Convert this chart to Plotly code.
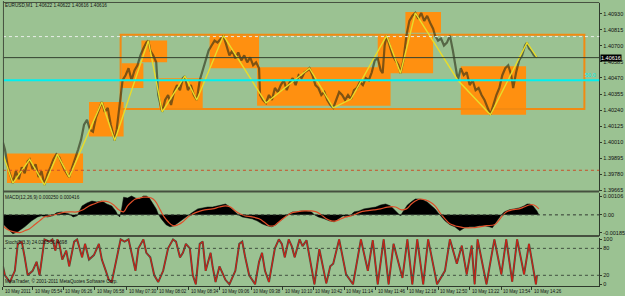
import plotly.graph_objects as go

W, H = 625, 296

# ---------------- data ----------------
price_x = [3,5,8,11,13,16,19,22,25,28,30,33,36,39,42,45,48,51,54,57,60,62,65,68,70,73,76,79,82,85,88,91,94,97,100,103,106,109,112,114,116,118,120,122,124,127,130,133,136,139,142,145,148,150,152,155,158,160,162,164,167,170,173,176,179,182,185,187,190,193,196,199,202,205,208,211,214,217,220,223,226,229,232,235,238,241,244,247,250,253,256,259,262,263,266,269,272,275,278,281,284,287,290,293,296,299,302,305,308,311,313,316,319,322,325,328,331,334,337,340,343,346,349,352,355,358,361,364,367,370,373,376,379,382,385,387,389,391,394,397,400,403,405,408,411,414,417,420,423,426,429,432,435,438,440,443,446,449,452,455,458,461,463,466,469,472,475,478,481,484,487,490,493,496,499,502,505,508,511,514,517,519,522,525,528,531,533,535,537,540,543]
price_y = [1.40007,1.39957,1.39830,1.39759,1.39716,1.39801,1.39744,1.39830,1.39787,1.39872,1.39886,1.39815,1.39851,1.39759,1.39801,1.39702,1.39780,1.39830,1.39886,1.39922,1.39900,1.39865,1.39815,1.39780,1.39759,1.39830,1.39886,1.39957,1.40028,1.40135,1.40170,1.40099,1.40085,1.40185,1.40241,1.40298,1.40227,1.40256,1.40135,1.40085,1.40021,1.40099,1.40206,1.40348,1.40454,1.40490,1.40540,1.40454,1.40525,1.40561,1.40632,1.40682,1.40724,1.40738,1.40667,1.40632,1.40582,1.40348,1.40277,1.40227,1.40312,1.40348,1.40277,1.40369,1.40419,1.40383,1.40469,1.40483,1.40383,1.40419,1.40348,1.40312,1.40454,1.40525,1.40596,1.40667,1.40703,1.40738,1.40724,1.40753,1.40774,1.40703,1.40632,1.40667,1.40611,1.40653,1.40596,1.40632,1.40582,1.40618,1.40561,1.40582,1.40540,1.40348,1.40312,1.40291,1.40348,1.40312,1.40398,1.40369,1.40419,1.40454,1.40383,1.40440,1.40469,1.40419,1.40490,1.40469,1.40511,1.40525,1.40540,1.40490,1.40419,1.40398,1.40348,1.40369,1.40312,1.40277,1.40256,1.40312,1.40369,1.40348,1.40312,1.40348,1.40319,1.40383,1.40398,1.40440,1.40419,1.40469,1.40454,1.40511,1.40596,1.40611,1.40525,1.40504,1.40703,1.40774,1.40703,1.40632,1.40596,1.40561,1.40504,1.40596,1.40774,1.40880,1.40916,1.40937,1.40895,1.40937,1.40880,1.40916,1.40866,1.40824,1.40774,1.40738,1.40753,1.40703,1.40724,1.40774,1.40667,1.40525,1.40454,1.40540,1.40490,1.40511,1.40419,1.40454,1.40383,1.40398,1.40348,1.40312,1.40256,1.40206,1.40277,1.40348,1.40398,1.40490,1.40540,1.40561,1.40490,1.40398,1.40511,1.40596,1.40632,1.40703,1.40724,1.40682,1.40667,1.40632,1.40618]

zz_x = [3,13,30,45,58,70,103,116,150,164,187,199,226,269,313,337,355,391,405,420,463,496,533,543]
zz_y = [1.39922,1.39716,1.39886,1.39702,1.39922,1.39759,1.40298,1.40021,1.40738,1.40227,1.40483,1.40312,1.40774,1.40291,1.40540,1.40256,1.40319,1.40774,1.40504,1.40937,1.40454,1.40206,1.40724,1.40618]

box_x0 = [7, 90, 123, 143, 161, 212, 260, 382, 410, 466]
box_x1 = [84, 125, 145, 169, 205, 262, 395, 438, 446, 532]
box_hi = [1.39929, 1.40298, 1.40575, 1.40738, 1.40469, 1.40774, 1.40547, 1.40774, 1.40944, 1.40554]
box_lo = [1.39716, 1.40050, 1.40398, 1.40582, 1.40248, 1.40540, 1.40270, 1.40504, 1.40795, 1.40206]

range_x0, range_x1 = 122, 591
range_hi, range_lo = 1.40781, 1.40248

level_white = 1.40767
level_bid = 1.40616
level_fibo = 1.40454
level_red = 1.39808

price_ticks = [1.40930, 1.40815, 1.40700, 1.40585, 1.40470, 1.40355, 1.40240, 1.40125, 1.40010, 1.39895, 1.39780, 1.39665]

macd_x = [3,8,13,18,25,32,38,42,48,53,57,62,66,70,74,78,83,88,93,98,103,108,113,117,119,121,123,125,129,133,137,141,145,148,151,155,158,160,163,168,172,176,180,185,190,194,200,205,210,215,220,225,228,231,234,238,241,245,250,255,260,265,270,275,279,283,288,292,296,300,305,310,315,318,322,328,333,338,343,347,351,355,358,363,368,374,380,385,390,395,400,405,408,412,417,420,423,428,432,436,440,444,447,450,455,460,465,470,475,480,485,490,495,498,502,505,507,510,515,520,525,530,533,536,539,543,545]
macd_hist = [-0.00048,-0.00074,-0.00101,-0.00090,-0.00064,-0.00032,-0.00011,-0.00005,-0.00011,-0.00005,0.00011,0.00016,0.00011,0.00005,-0.00011,-0.00005,0.00048,0.00064,0.00074,0.00069,0.00074,0.00058,0.00048,0.00021,0.0,-0.00011,0.00032,0.00095,0.00090,0.00101,0.00090,0.00085,0.00101,0.00101,0.00090,0.00058,0.00032,0.00005,-0.00021,-0.00053,-0.00064,-0.00058,-0.00042,-0.00021,-0.00005,0.00011,0.00032,0.00037,0.00042,0.00042,0.00048,0.00053,0.00058,0.00048,0.00032,0.00011,0.0,-0.00011,-0.00016,-0.00021,-0.00032,-0.00048,-0.00058,-0.00064,-0.00053,-0.00032,-0.00011,0.00005,0.00016,0.00016,0.00021,0.00021,0.00016,0.0,-0.00011,-0.00021,-0.00032,-0.00037,-0.00021,-0.00005,-0.00011,0.0,0.00016,0.00021,0.00032,0.00037,0.00042,0.00053,0.00058,0.00048,0.00021,-0.00005,0.00021,0.00053,0.00074,0.00085,0.00085,0.00080,0.00069,0.00053,0.00032,0.00005,-0.00016,-0.00032,-0.00053,-0.00064,-0.00085,-0.00069,-0.00064,-0.00064,-0.00058,-0.00058,-0.00064,-0.00069,-0.00037,-0.00011,0.0,0.00016,0.00027,0.00032,0.00037,0.00048,0.00058,0.00058,0.00048,0.00021,0.0]

sig_x = [3,8,13,20,25,30,35,40,45,50,55,62,70,78,84,90,95,100,105,110,115,120,125,129,133,137,141,145,149,153,157,162,166,170,175,180,185,190,195,200,207,215,222,228,233,238,243,248,255,262,268,272,277,281,286,290,295,300,308,315,320,325,330,335,340,345,350,355,360,365,370,378,385,392,400,406,411,416,420,425,430,435,440,445,450,455,460,465,470,478,485,492,500,504,508,512,518,525,530,535,540,545]
macd_signal = [-0.00058,-0.00080,-0.00090,-0.00095,-0.00085,-0.00074,-0.00053,-0.00032,-0.00011,-0.00005,0.0,0.00011,0.00016,0.00016,0.00027,0.00048,0.00058,0.00069,0.00074,0.00069,0.00053,0.00027,0.00016,0.00048,0.00069,0.00085,0.00090,0.00095,0.00095,0.00090,0.00074,0.00027,-0.00011,-0.00037,-0.00058,-0.00053,-0.00037,-0.00011,0.00005,0.00016,0.00027,0.00032,0.00042,0.00048,0.00042,0.00021,0.00005,-0.00005,-0.00011,-0.00021,-0.00042,-0.00058,-0.00058,-0.00042,-0.00021,-0.00005,0.00011,0.00016,0.00021,0.00021,0.00016,0.0,-0.00021,-0.00032,-0.00032,-0.00021,-0.00011,-0.00005,0.00005,0.00016,0.00021,0.00027,0.00032,0.00042,0.00042,0.00027,0.00032,0.00058,0.00074,0.00085,0.00080,0.00069,0.00048,0.00011,-0.00021,-0.00048,-0.00058,-0.00064,-0.00069,-0.00069,-0.00064,-0.00058,-0.00053,-0.00032,-0.00005,0.00016,0.00027,0.00032,0.00042,0.00053,0.00053,0.00032]

stoch_x = [3,5,10,15,18,22,25,28,33,37,40,45,50,53,56,58,60,63,67,70,75,78,83,86,90,95,100,103,107,110,113,118,122,126,130,134,137,140,145,148,152,156,160,165,170,175,178,182,185,188,192,195,198,202,205,208,213,215,218,222,228,232,238,242,245,248,252,258,262,265,268,272,278,282,285,288,292,295,298,303,306,310,314,318,323,327,330,334,337,343,350,357,365,372,377,382,388,393,398,407,412,417,422,428,433,442,447,450,455,462,467,472,477,480,483,492,500,507,512,518,523,530,535,542,543]
stoch_k = [40,20,5,30,90,95,60,20,30,50,20,100,95,100,75,100,90,55,75,40,95,100,60,90,55,65,90,55,30,10,5,60,100,95,100,60,30,80,100,70,60,20,5,30,80,100,95,60,70,90,80,20,0,90,95,30,70,40,5,40,10,0,30,90,95,60,20,0,50,70,30,5,80,100,90,60,100,85,60,100,85,98,50,0,78,38,2,40,46,100,22,0,100,30,98,0,100,0,90,14,100,0,100,0,100,0,20,30,100,46,86,22,86,0,100,0,100,22,100,6,100,22,90,0,20]

time_pos = [3, 33, 64, 96, 128, 159, 191, 222, 254, 286, 317, 348, 380, 412, 443, 475, 507, 538]
time_lbl = ["10 May 2011", "10 May 05:54", "10 May 06:26", "10 May 06:58", "10 May 07:30", "10 May 08:02",
            "10 May 08:34", "10 May 09:06", "10 May 09:38", "10 May 10:10", "10 May 10:42", "10 May 11:14",
            "10 May 11:46", "10 May 12:18", "10 May 12:50", "10 May 13:22", "10 May 13:54", "10 May 14:26"]

# ---------------- styling ----------------
BG = "#9BC292"
DARK = "#2f3a2c"
ORANGE = "#FF9010"
FONT = "Liberation Sans"

def fx(p):
    return p / W

def fy(p):
    return 1 - p / H

fig = go.Figure()

# price bars (dark, semi-transparent over boxes)
fig.add_trace(go.Scatter(x=price_x, y=price_y, mode="lines",
                         line=dict(color="rgba(40,42,20,0.6)", width=2.2),
                         xaxis="x", yaxis="y", hoverinfo="skip"))
# zigzag
fig.add_trace(go.Scatter(x=zz_x, y=zz_y, mode="lines",
                         line=dict(color="#E8DC2A", width=1.4),
                         xaxis="x", yaxis="y", hoverinfo="skip"))
# MACD histogram
fig.add_trace(go.Scatter(x=macd_x, y=macd_hist, mode="lines", fill="tozeroy",
                         fillcolor="#000000", line=dict(color="#000000", width=0.5),
                         xaxis="x", yaxis="y2", hoverinfo="skip"))
fig.add_trace(go.Scatter(x=sig_x, y=macd_signal, mode="lines", line_shape="spline",
                         line=dict(color="#E0502A", width=1.2),
                         xaxis="x", yaxis="y2", hoverinfo="skip"))
# Stochastic
fig.add_trace(go.Scatter(x=stoch_x, y=stoch_k, mode="lines",
                         line=dict(color="#4a4f44", width=2.0),
                         xaxis="x", yaxis="y3", hoverinfo="skip"))
fig.add_trace(go.Scatter(x=stoch_x, y=stoch_k, mode="lines",
                         line=dict(color="#D81E10", width=1.0),
                         xaxis="x", yaxis="y3", hoverinfo="skip"))

shapes = []
for x0, x1, hi, lo in zip(box_x0, box_x1, box_hi, box_lo):
    shapes.append(dict(type="rect", xref="x", yref="y", x0=x0, x1=x1, y0=lo, y1=hi,
                       fillcolor=ORANGE, line=dict(width=0), layer="below"))
shapes.append(dict(type="rect", xref="x", yref="y", x0=range_x0, x1=range_x1, y0=range_lo, y1=range_hi,
                   fillcolor="rgba(0,0,0,0)", line=dict(color="#F28A12", width=2), layer="below"))
# horizontal levels
shapes.append(dict(type="line", xref="paper", yref="y", x0=fx(3), x1=fx(606), y0=level_white, y1=level_white,
                   line=dict(color="#E8EEE8", width=1, dash="dot")))
shapes.append(dict(type="line", xref="paper", yref="y", x0=fx(3), x1=fx(606), y0=level_bid, y1=level_bid,
                   line=dict(color="#34402f", width=1)))
shapes.append(dict(type="line", xref="paper", yref="y", x0=fx(3), x1=fx(606), y0=level_fibo, y1=level_fibo,
                   line=dict(color="#00F0F0", width=2)))
shapes.append(dict(type="line", xref="paper", yref="y", x0=fx(3), x1=fx(606), y0=level_red, y1=level_red,
                   line=dict(color="#C8502A", width=1, dash="dot")))
# indicator levels
shapes.append(dict(type="line", xref="paper", yref="y2", x0=fx(3), x1=fx(606), y0=0, y1=0,
                   line=dict(color="#303830", width=1, dash="dot")))
for lv in (80, 20):
    shapes.append(dict(type="line", xref="paper", yref="y3", x0=fx(3), x1=fx(606), y0=lv, y1=lv,
                       line=dict(color="#405040", width=1, dash="dot")))
# pane borders
for yy in (1.5, 192.5, 237.5):
    shapes.append(dict(type="line", xref="paper", yref="paper", x0=fx(3), x1=fx(606), y0=fy(yy), y1=fy(yy),
                       line=dict(color="#46503f", width=2 if yy > 2 else 1)))
shapes.append(dict(type="line", xref="paper", yref="paper", x0=fx(3.5), x1=fx(3.5), y0=fy(0), y1=fy(288),
                   line=dict(color="#46503f", width=1)))

annotations = []
def txt(x, y, s, size=4.7, color="#111111"):
    annotations.append(dict(x=fx(x), y=fy(y), xref="paper", yref="paper", text=s, showarrow=False,
                            xanchor="left", yanchor="middle", font=dict(family=FONT, size=size, color=color)))

txt(3, 5, "EURUSD,M1  1.40622 1.40622 1.40616 1.40616")
txt(3, 199, "MACD(12,26,9) 0.000250 0.000416")
txt(3, 244, "Stoch(5,3,3) 24.0265 30.4698")
txt(3, 283, "MetaTrader, © 2001-2011 MetaQuotes Software Corp.")
for tp, tl in zip(time_pos, time_lbl):
    annotations.append(dict(x=tp, y=fy(293), xref="x", yref="paper", text=tl, showarrow=False,
                            xanchor="left", yanchor="middle", font=dict(family=FONT, size=4.5, color="#111111")))
# fibo label and current price box
annotations.append(dict(x=fx(605), y=level_fibo, xref="paper", yref="y", text="50.0", showarrow=False,
                        xanchor="right", yanchor="bottom", font=dict(family=FONT, size=5.5, color="#00F0F0")))
annotations.append(dict(x=fx(607), y=level_bid, xref="paper", yref="y", text="1.40616", showarrow=False,
                        xanchor="left", yanchor="middle", bgcolor="#000000", borderpad=0,
                        font=dict(family=FONT, size=5.5, color="#FFFFFF")))

axis_font = dict(family=FONT, size=5.5, color="#111111")
fig.update_layout(
    width=W, height=H, margin=dict(l=0, r=0, t=0, b=0),
    paper_bgcolor=BG, plot_bgcolor=BG, showlegend=False,
    xaxis=dict(domain=[fx(3), fx(606)], range=[3, 606], anchor="y3", showgrid=False, zeroline=False,
               tickvals=time_pos, ticks="outside", ticklen=3, tickcolor=DARK, showticklabels=False,
               showline=True, linecolor=DARK, linewidth=1),
    yaxis=dict(domain=[fy(192), fy(2)], range=[1.39659, 1.41008], side="right", anchor="x",
               tickvals=price_ticks, ticktext=[f"{v:.5f}" for v in price_ticks], tickfont=axis_font,
               ticks="outside", ticklen=2, tickcolor=DARK, showgrid=False, zeroline=False,
               showline=True, linecolor=DARK, linewidth=1),
    yaxis2=dict(domain=[fy(237), fy(194)], range=[-0.00111, 0.00117], side="right", anchor="x",
                tickvals=[0.00101, 0, -0.00095], ticktext=["0.00106", "0.00", "-0.00185"], tickfont=axis_font,
                ticks="outside", ticklen=2, tickcolor=DARK, showgrid=False, zeroline=False,
                showline=True, linecolor=DARK, linewidth=1),
    yaxis3=dict(domain=[fy(288), fy(239)], range=[-4, 104], side="right", anchor="x",
                tickvals=[100, 80, 20, 0], ticktext=["100", "80", "20", "0"], tickfont=axis_font,
                ticks="outside", ticklen=2, tickcolor=DARK, showgrid=False, zeroline=False,
                showline=True, linecolor=DARK, linewidth=1),
    shapes=shapes, annotations=annotations,
)

fig.write_html("out.html", config={"displayModeBar": False})
